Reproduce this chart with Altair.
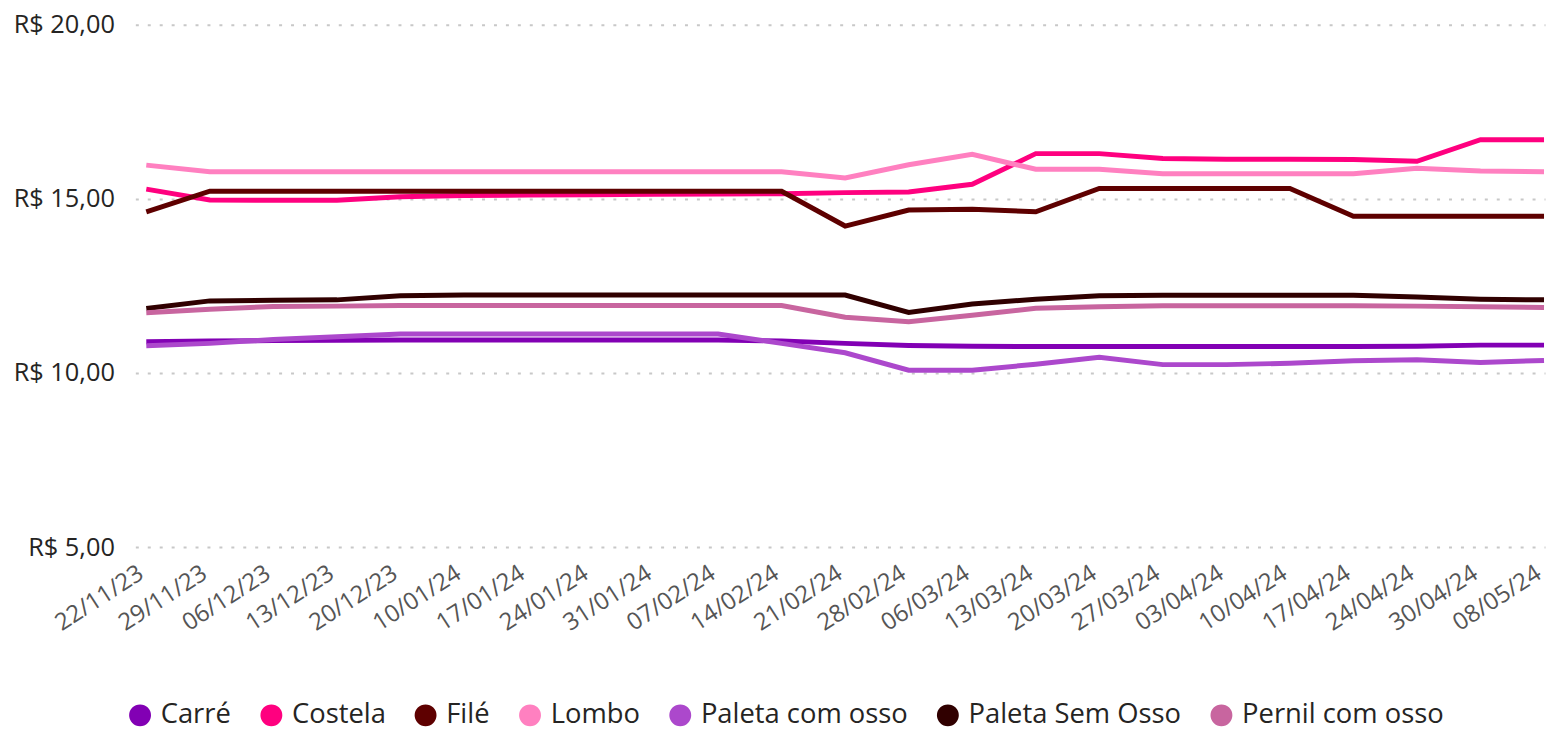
import altair as alt
import pandas as pd

dates = ["22/11/23", "29/11/23", "06/12/23", "13/12/23", "20/12/23", "10/01/24",
         "17/01/24", "24/01/24", "31/01/24", "07/02/24", "14/02/24", "21/02/24",
         "28/02/24", "06/03/24", "13/03/24", "20/03/24", "27/03/24", "03/04/24",
         "10/04/24", "17/04/24", "24/04/24", "30/04/24", "08/05/24"]

series_names = ["Carré", "Costela", "Filé", "Lombo", "Paleta com osso",
                "Paleta Sem Osso", "Pernil com osso"]

carre = [10.90, 10.92, 10.93, 10.94, 10.95, 10.95, 10.95, 10.95, 10.95, 10.95, 10.92, 10.85,
         10.79, 10.77, 10.76, 10.76, 10.76, 10.76, 10.76, 10.76, 10.77, 10.80, 10.80]
costela = [15.28, 14.97, 14.96, 14.96, 15.06, 15.10, 15.11, 15.12, 15.13, 15.14, 15.15, 15.18,
           15.20, 15.42, 16.30, 16.30, 16.16, 16.14, 16.14, 16.13, 16.08, 16.70, 16.70]
file_ = [14.63, 15.22, 15.22, 15.22, 15.22, 15.22, 15.22, 15.22, 15.22, 15.22, 15.22, 14.22,
         14.68, 14.70, 14.63, 15.30, 15.30, 15.30, 15.30, 14.50, 14.50, 14.50, 14.50]
lombo = [15.97, 15.78, 15.78, 15.78, 15.78, 15.78, 15.78, 15.78, 15.78, 15.78, 15.78, 15.60,
         15.98, 16.28, 15.85, 15.85, 15.72, 15.72, 15.72, 15.72, 15.88, 15.80, 15.78]
paleta_com = [10.78, 10.85, 10.96, 11.04, 11.12, 11.12, 11.12, 11.12, 11.12, 11.12, 10.85, 10.58,
              10.08, 10.08, 10.25, 10.45, 10.24, 10.24, 10.28, 10.35, 10.38, 10.30, 10.36]
paleta_sem = [11.85, 12.07, 12.09, 12.10, 12.22, 12.24, 12.24, 12.24, 12.24, 12.24, 12.24, 12.24,
              11.74, 11.98, 12.12, 12.22, 12.23, 12.23, 12.23, 12.23, 12.18, 12.12, 12.10]
pernil = [11.73, 11.83, 11.91, 11.92, 11.94, 11.94, 11.94, 11.94, 11.94, 11.94, 11.94, 11.60,
          11.47, 11.66, 11.86, 11.90, 11.93, 11.93, 11.93, 11.93, 11.92, 11.90, 11.88]

colors = ["#8200B4", "#FF007F", "#5E0000", "#FF80C0", "#AC48CC", "#300000", "#C8659F"]

all_values = [carre, costela, file_, lombo, paleta_com, paleta_sem, pernil]
rows = []
for name, vals in zip(series_names, all_values):
    for d, v in zip(dates, vals):
        rows.append({"Data": d, "Produto": name, "Preco": v})
df = pd.DataFrame(rows)

FONT = "Open Sans"

chart = alt.Chart(df).mark_line(strokeWidth=5).encode(
    x=alt.X("Data:N", sort=dates, title=None,
            scale=alt.Scale(type="point", padding=0.094, align=0.917),
            axis=alt.Axis(labelAngle=-33, labelFontSize=24, labelColor="#555555",
                          labelFont=FONT, domain=False, ticks=False, grid=False,
                          labelPadding=14, labelOffset=-12,
                          labelAlign="right", labelBaseline="top")),
    y=alt.Y("Preco:Q", title=None,
            scale=alt.Scale(domain=[5, 20], nice=False, zero=False),
            axis=alt.Axis(values=[5, 10, 15, 20],
                          labelExpr="'R$ ' + replace(format(datum.value, '.2f'), '.', ',')",
                          labelFontSize=25.5, labelColor="#252423", labelFont=FONT,
                          domain=False, ticks=False, labelPadding=21,
                          gridColor="#C8C8C8", gridDash=[3, 9], gridWidth=2)),
    color=alt.Color("Produto:N", sort=series_names,
                    scale=alt.Scale(domain=series_names, range=colors),
                    legend=alt.Legend(orient="none", legendX=-9, legendY=680,
                                      direction="horizontal", title=None,
                                      symbolType="circle", symbolSize=121,
                                      symbolStrokeWidth=11, symbolOpacity=1,
                                      labelFontSize=27.5, labelFont=FONT,
                                      labelColor="#252423", columnPadding=12,
                                      labelOffset=7, padding=0, labelLimit=400)),
    order=alt.Order("Produto:N"),
).properties(
    width=1417, height=525,
    autosize=alt.AutoSizeParams(type="none"),
    padding={"left": 128, "top": 15, "right": 2, "bottom": 182},
).configure(font=FONT).configure_view(stroke=None, strokeWidth=0)

chart.save("out.html", embed_options={"renderer": "svg", "actions": False})
